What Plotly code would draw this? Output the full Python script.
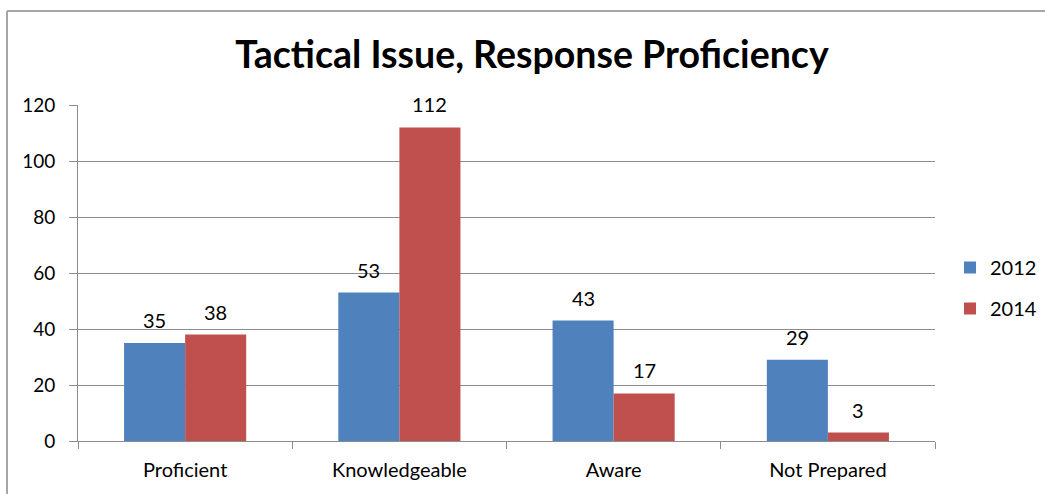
import plotly.graph_objects as go

categories = ["Proficient", "Knowledgeable", "Aware", "Not Prepared"]
series_names = ["2012", "2014"]
values_2012 = [35, 53, 43, 29]
values_2014 = [38, 112, 17, 3]
y_ticks = [0, 20, 40, 60, 80, 100, 120]

FONT = "Lato, Carlito, Calibri, sans-serif"
BLUE = "#4F81BD"
RED = "#C0504D"
GRID = "#8C8C8C"
BORDER = "#A6A6A6"

fig = go.Figure()
fig.add_trace(go.Bar(x=categories, y=values_2012, name=series_names[0],
                     marker=dict(color=BLUE, line=dict(width=0)), legendgroup="a"))
fig.add_trace(go.Bar(x=categories, y=values_2014, name=series_names[1],
                     marker=dict(color=RED, line=dict(width=0)), legendgroup="b"))

W, H = 1045, 494
ml, mr, mt, mb = 78, 110, 105, 53
plot_w = W - ml - mr
plot_h = H - mt - mb
cat_w = plot_w / len(categories)
bargap = 0.43
bar_w = cat_w * (1 - bargap) / 2

annotations = []
for vals, sgn in ((values_2012, -1), (values_2014, 1)):
    for c, v in zip(categories, vals):
        annotations.append(dict(x=c, y=v, xref="x", yref="y", text=str(v),
                                showarrow=False, xshift=sgn * bar_w / 2, yshift=23,
                                yanchor="middle",
                                font=dict(family=FONT, size=20, color="#000000")))

bx = -(ml - 7) / plot_w
by = 1 + (mt - 11) / plot_h

fig.update_layout(
    width=W, height=H, autosize=False,
    margin=dict(l=ml, r=mr, t=mt, b=mb, pad=0),
    paper_bgcolor="white", plot_bgcolor="white",
    barmode="group", bargap=bargap, bargroupgap=0,
    font=dict(family=FONT, size=20, color="#000000"),
    title=dict(text="<b>Tactical Issue, Response Proficiency</b>",
               x=532 / W, xanchor="center", y=1 - 55 / H, yanchor="middle",
               font=dict(family=FONT, size=37.5, color="#000000")),
    legend=dict(xref="container", yref="container", x=950 / W, xanchor="left",
                y=1 - 288 / H, yanchor="middle",
                font=dict(family=FONT, size=20), tracegroupgap=12,
                traceorder="grouped", bgcolor="rgba(0,0,0,0)", borderwidth=0),
    xaxis=dict(showgrid=False, showline=True, linecolor=GRID, linewidth=1,
               ticks="outside", tickson="boundaries", ticklen=7, tickcolor=GRID,
               ticklabelstandoff=11, automargin=False,
               tickfont=dict(family=FONT, size=20)),
    yaxis=dict(range=[0, 120], tickvals=y_ticks, showgrid=True, gridcolor=GRID,
               gridwidth=1, showline=True, linecolor=GRID, linewidth=1,
               ticks="outside", ticklen=8, tickcolor=GRID, zeroline=False,
               ticklabelstandoff=10, automargin=False,
               tickfont=dict(family=FONT, size=19)),
    annotations=annotations,
    shapes=[
        dict(type="line", xref="paper", yref="paper", x0=bx, x1=(W - ml + 5) / plot_w,
             y0=by, y1=by, line=dict(color=BORDER, width=2)),
        dict(type="line", xref="paper", yref="paper", x0=bx, x1=bx,
             y0=-(mb + 5) / plot_h, y1=by, line=dict(color=BORDER, width=2)),
    ],
)

fig.write_html("out.html", config={"displayModeBar": False},
               post_script="document.body.style.margin='0';")
